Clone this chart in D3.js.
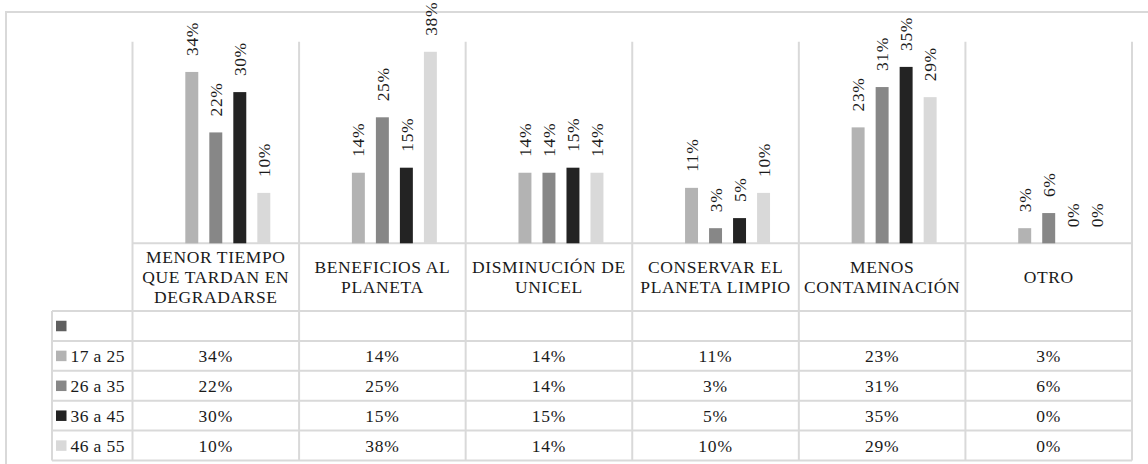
<!DOCTYPE html>
<html>
<head>
<meta charset="utf-8">
<script src="https://cdn.jsdelivr.net/npm/d3@7"></script>
<style>
  html, body { margin: 0; padding: 0; background: #fff; }
  svg { display: block; }
</style>
</head>
<body>
<svg id="chart" width="1148" height="464"></svg>
<script>
// Reasons given, by age group (share of answers)
const categories = [
  "MENOR TIEMPO QUE TARDAN EN DEGRADARSE",
  "BENEFICIOS AL PLANETA",
  "DISMINUCIÓN DE UNICEL",
  "CONSERVAR EL PLANETA LIMPIO",
  "MENOS CONTAMINACIÓN",
  "OTRO"
];
// First series has no name and no values (shown only in the data table)
const seriesNames = ["", "17 a 25", "26 a 35", "36 a 45", "46 a 55"];
const seriesColors = ["#5f5f5f", "#b3b3b3", "#878787", "#232323", "#d9d9d9"];

const blank    = [null, null, null, null, null, null];
const age17_25 = [0.34, 0.14, 0.14, 0.11, 0.23, 0.03];
const age26_35 = [0.22, 0.25, 0.14, 0.03, 0.31, 0.06];
const age36_45 = [0.30, 0.15, 0.15, 0.05, 0.35, 0.00];
const age46_55 = [0.10, 0.38, 0.14, 0.10, 0.29, 0.00];
const seriesValues = [blank, age17_25, age26_35, age36_45, age46_55];

const yDomain = [0, 0.4];

// ---- layout ----
const FONT = "\"Nimbus Roman\", \"Times New Roman\", \"Liberation Serif\", Tinos, FreeSerif, serif";
const gridColor = "#d9d9d9";
const textColor = "#1a1a1a";
const fontSize = 17.5;
const plotLeft = 132.5, plotRight = 1132;
const plotTop = 41.7, baseline = 243.3;
const headerBottom = 311;
const rowH = 29.9;
const legendLeft = 52;
const tableBottom = headerBottom + rowH * seriesNames.length;

const x0 = d3.scaleBand().domain(d3.range(categories.length)).range([plotLeft, plotRight]).padding(0);
const x1 = d3.scaleBand().domain(d3.range(seriesNames.length)).range([0, x0.bandwidth()])
  .paddingInner(0.46).paddingOuter(1.2);
const y = d3.scaleLinear().domain(yDomain).range([baseline, plotTop]);
const pct = d3.format(".0%");

function styleText(sel, spacing) {
  return sel
    .attr("font-family", FONT)
    .style("font-family", FONT)
    .style("font-size", fontSize + "px")
    .style("letter-spacing", spacing + "px")
    .attr("fill", textColor);
}

function draw() {
  const svg = d3.select("#chart");
  svg.selectAll("*").remove();

  // outer chart border
  svg.append("rect")
    .attr("x", 6).attr("y", 12).attr("width", 1180).attr("height", 480)
    .attr("fill", "none").attr("stroke", gridColor).attr("stroke-width", 2);

  // category separators running from the plot top through the data table
  const bounds = d3.range(categories.length + 1).map(i => i < categories.length ? x0(i) : plotRight);
  svg.append("g").selectAll("line").data(bounds).join("line")
    .attr("x1", d => d).attr("x2", d => d)
    .attr("y1", plotTop).attr("y2", tableBottom)
    .attr("stroke", gridColor).attr("stroke-width", 2);

  // data table grid
  svg.append("line").attr("x1", plotLeft).attr("x2", plotRight).attr("y1", baseline).attr("y2", baseline)
    .attr("stroke", gridColor).attr("stroke-width", 2);
  const rowLines = d3.range(seriesNames.length + 1).map(i => headerBottom + i * rowH);
  svg.append("g").selectAll("line").data(rowLines).join("line")
    .attr("x1", legendLeft).attr("x2", plotRight).attr("y1", d => d).attr("y2", d => d)
    .attr("stroke", gridColor).attr("stroke-width", 2);
  svg.append("line").attr("x1", legendLeft).attr("x2", legendLeft).attr("y1", headerBottom).attr("y2", tableBottom)
    .attr("stroke", gridColor).attr("stroke-width", 2);

  // bars with rotated value labels
  const groups = svg.append("g").selectAll("g").data(seriesValues).join("g");
  groups.each(function (vals, s) {
    const g = d3.select(this);
    const pts = vals.map((v, c) => ({ v, c })).filter(d => d.v !== null);
    g.selectAll("rect").data(pts).join("rect")
      .attr("fill", seriesColors[s])
      .attr("x", d => x0(d.c) + x1(s))
      .attr("width", x1.bandwidth())
      .attr("y", d => y(d.v))
      .attr("height", d => baseline - y(d.v));
    styleText(g.selectAll("text").data(pts).join("text"), 0.6)
      .attr("transform", d => `translate(${x0(d.c) + x1(s) + x1.bandwidth() / 2},${y(d.v) - 16}) rotate(-90)`)
      .attr("dy", "0.35em")
      .attr("text-anchor", "start")
      .text(d => pct(d.v));
  });

  // category labels in the header row, wrapped to the column width
  const header = svg.append("g");
  categories.forEach((name, c) => {
    const t = styleText(header.append("text"), 0.6).attr("text-anchor", "middle");
    const words = name.split(" ");
    const lines = [];
    let cur = [];
    const probe = t.append("tspan");
    const maxW = x0.bandwidth() - 4;
    words.forEach(w => {
      const test = cur.concat(w).join(" ");
      probe.text(test);
      if (cur.length && probe.node().getComputedTextLength() > maxW) {
        lines.push(cur.join(" "));
        cur = [w];
      } else {
        cur.push(w);
      }
    });
    if (cur.length) lines.push(cur.join(" "));
    probe.remove();
    const cx = x0(c) + x0.bandwidth() / 2;
    const cy = (baseline + headerBottom) / 2;
    const lh = 20;
    lines.forEach((ln, i) => {
      t.append("tspan")
        .attr("x", cx)
        .attr("y", cy + (i - (lines.length - 1) / 2) * lh)
        .attr("dy", "0.35em")
        .text(ln);
    });
  });

  // legend keys and values in the table rows
  const rows = svg.append("g").selectAll("g").data(seriesNames).join("g")
    .attr("transform", (d, i) => `translate(0,${headerBottom + i * rowH + rowH / 2})`);
  rows.append("rect")
    .attr("x", 56).attr("y", -5.2).attr("width", 10.5).attr("height", 10.5)
    .attr("fill", (d, i) => seriesColors[i]);
  styleText(rows.append("text"), 0.4)
    .attr("x", 70.5).attr("dy", "0.35em")
    .text(d => d);
  rows.each(function (name, s) {
    styleText(d3.select(this).selectAll("text.val")
      .data(seriesValues[s].map((v, c) => ({ v, c })).filter(d => d.v !== null))
      .join("text").attr("class", "val"), 0.8)
      .attr("x", d => x0(d.c) + x0.bandwidth() / 2)
      .attr("dy", "0.35em")
      .attr("text-anchor", "middle")
      .text(d => pct(d.v));
  });
}

draw();
// redraw once fonts are settled so label wrapping is measured with the final face
if (document.fonts && document.fonts.ready) {
  document.fonts.ready.then(() => requestAnimationFrame(draw));
}
</script>
</body>
</html>
